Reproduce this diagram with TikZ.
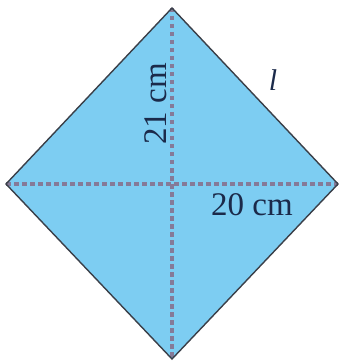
\documentclass[tikz,border=0pt]{standalone}
\usepackage{fontspec}
\setmainfont{Liberation Serif}
\definecolor{fillblue}{HTML}{7DCDF2}
\definecolor{edgegray}{HTML}{3A3F48}
\definecolor{dashcol}{HTML}{857A98}
\definecolor{textnavy}{HTML}{1B2A4A}
\tikzset{
  diag/.style={draw=dashcol, line width=3.2pt, dash pattern=on 4.5pt off 3.5pt},
  lbl/.style={text=textnavy, font=\fontsize{33}{33}\selectfont, inner sep=0pt},
}
\begin{document}
\begin{tikzpicture}[x=1pt,y=-1pt]
\useasboundingbox (0,0) rectangle (340,363);
\coordinate (T) at (172,8);
\coordinate (B) at (172,359);
\coordinate (L) at (6,184);
\coordinate (R) at (338,184);
\fill[fillblue] (T) -- (R) -- (B) -- (L) -- cycle;
\draw[diag] (T) -- (B);
\draw[diag] (L) -- (R);
\draw[edgegray, line width=1.4pt, line join=miter] (T) -- (R) -- (B) -- (L) -- cycle;
\node[lbl, rotate=90] (v) at (156,104) {21 cm};
\node[lbl] (h) at (252,205) {20 cm};
\node[lbl, font=\fontsize{30}{30}\selectfont\itshape] (l) at (273,80) {l};
\end{tikzpicture}
\end{document}
